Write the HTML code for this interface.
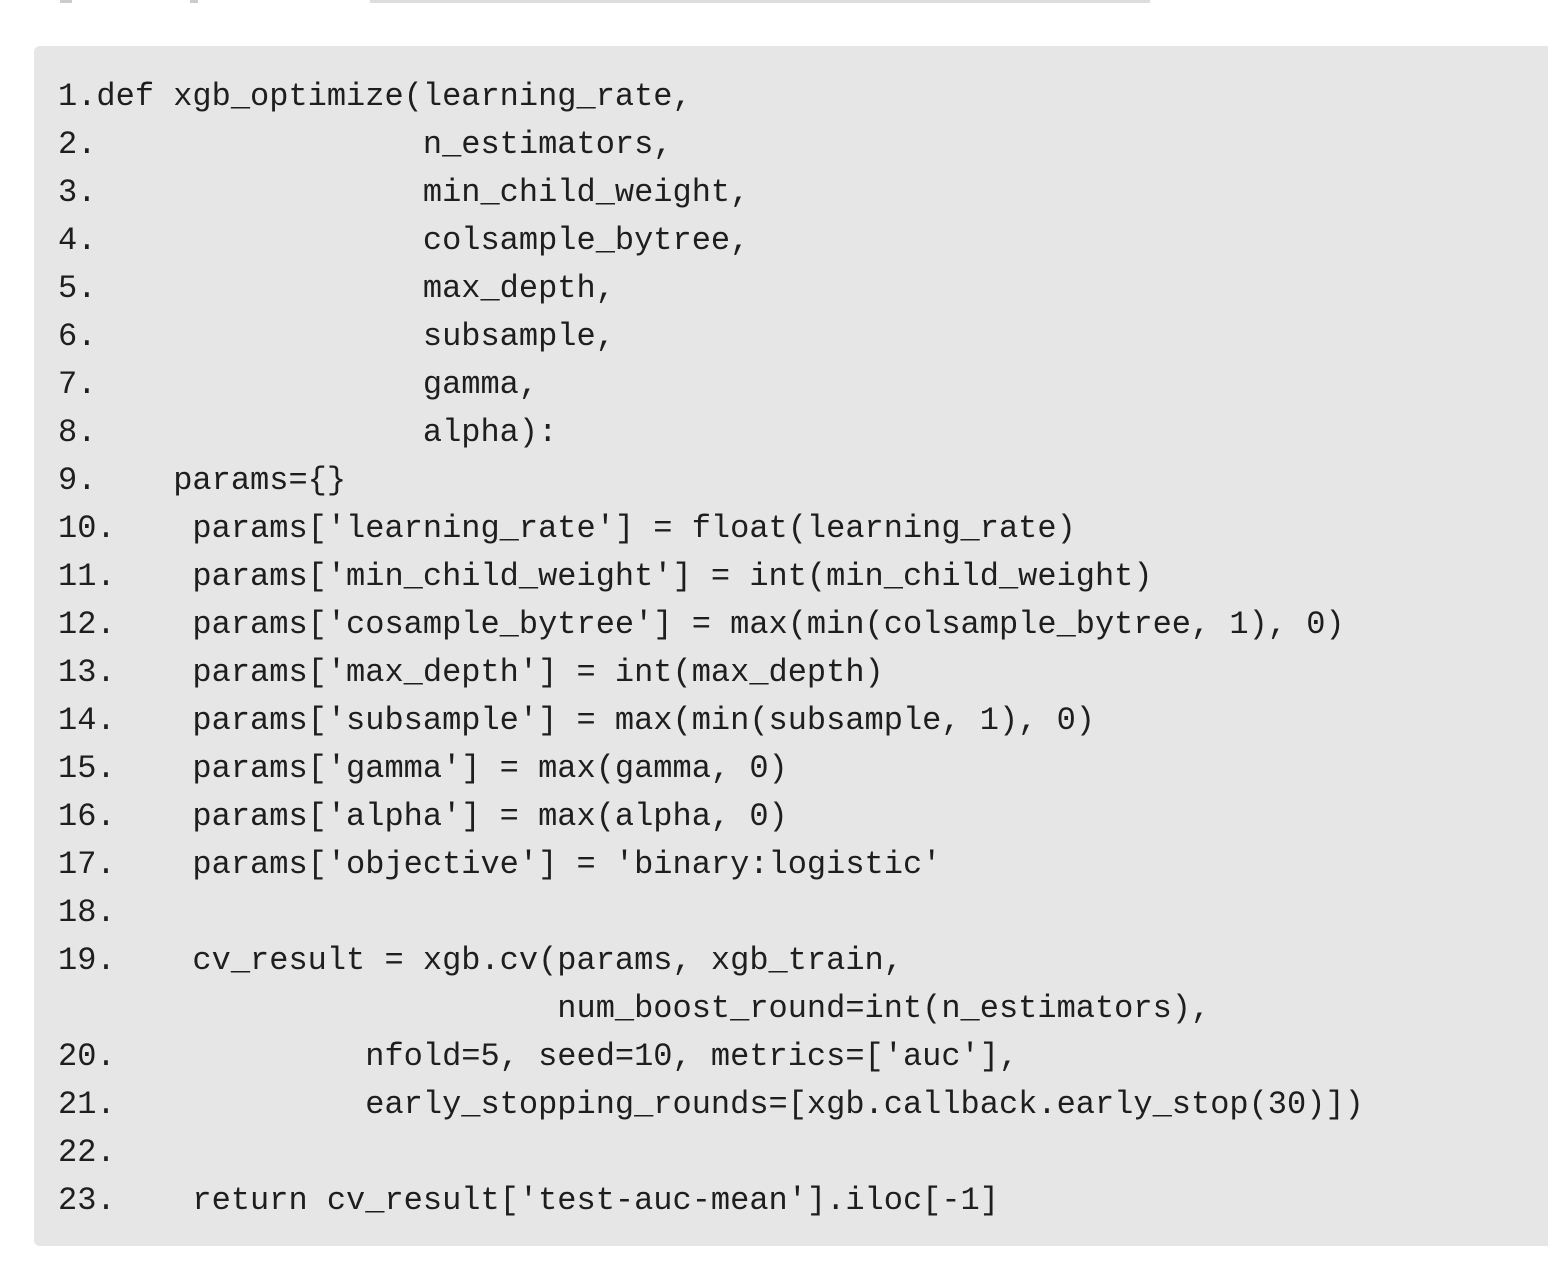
<!DOCTYPE html>
<html><head><meta charset="utf-8"><style>
html,body{margin:0;padding:0;background:#fff;width:1548px;height:1266px;overflow:hidden;position:relative}
.box{position:absolute;left:34px;top:46px;width:1530px;height:1200px;background:#e6e6e6;border-radius:6px}
pre{position:absolute;left:58px;top:73px;margin:0;font-family:"Liberation Mono",monospace;font-size:32px;line-height:48px;color:#1e1e1e;white-space:pre}
.frag{position:absolute;top:0;height:3px;background:#ccc}
</style></head><body>
<div class="frag" style="left:60px;width:12px"></div>
<div class="frag" style="left:190px;width:8px"></div>
<div class="frag" style="left:370px;width:780px;background:#ddd"></div>
<div class="box"></div>
<pre>1.def xgb_optimize(learning_rate,
2.                 n_estimators,
3.                 min_child_weight,
4.                 colsample_bytree,
5.                 max_depth,
6.                 subsample,
7.                 gamma,
8.                 alpha):
9.    params={}
10.    params['learning_rate'] = float(learning_rate)
11.    params['min_child_weight'] = int(min_child_weight)
12.    params['cosample_bytree'] = max(min(colsample_bytree, 1), 0)
13.    params['max_depth'] = int(max_depth)
14.    params['subsample'] = max(min(subsample, 1), 0)
15.    params['gamma'] = max(gamma, 0)
16.    params['alpha'] = max(alpha, 0)
17.    params['objective'] = 'binary:logistic'
18.
19.    cv_result = xgb.cv(params, xgb_train,
                          num_boost_round=int(n_estimators),
20.             nfold=5, seed=10, metrics=['auc'],
21.             early_stopping_rounds=[xgb.callback.early_stop(30)])
22.
23.    return cv_result['test-auc-mean'].iloc[-1]</pre>
</body></html>
